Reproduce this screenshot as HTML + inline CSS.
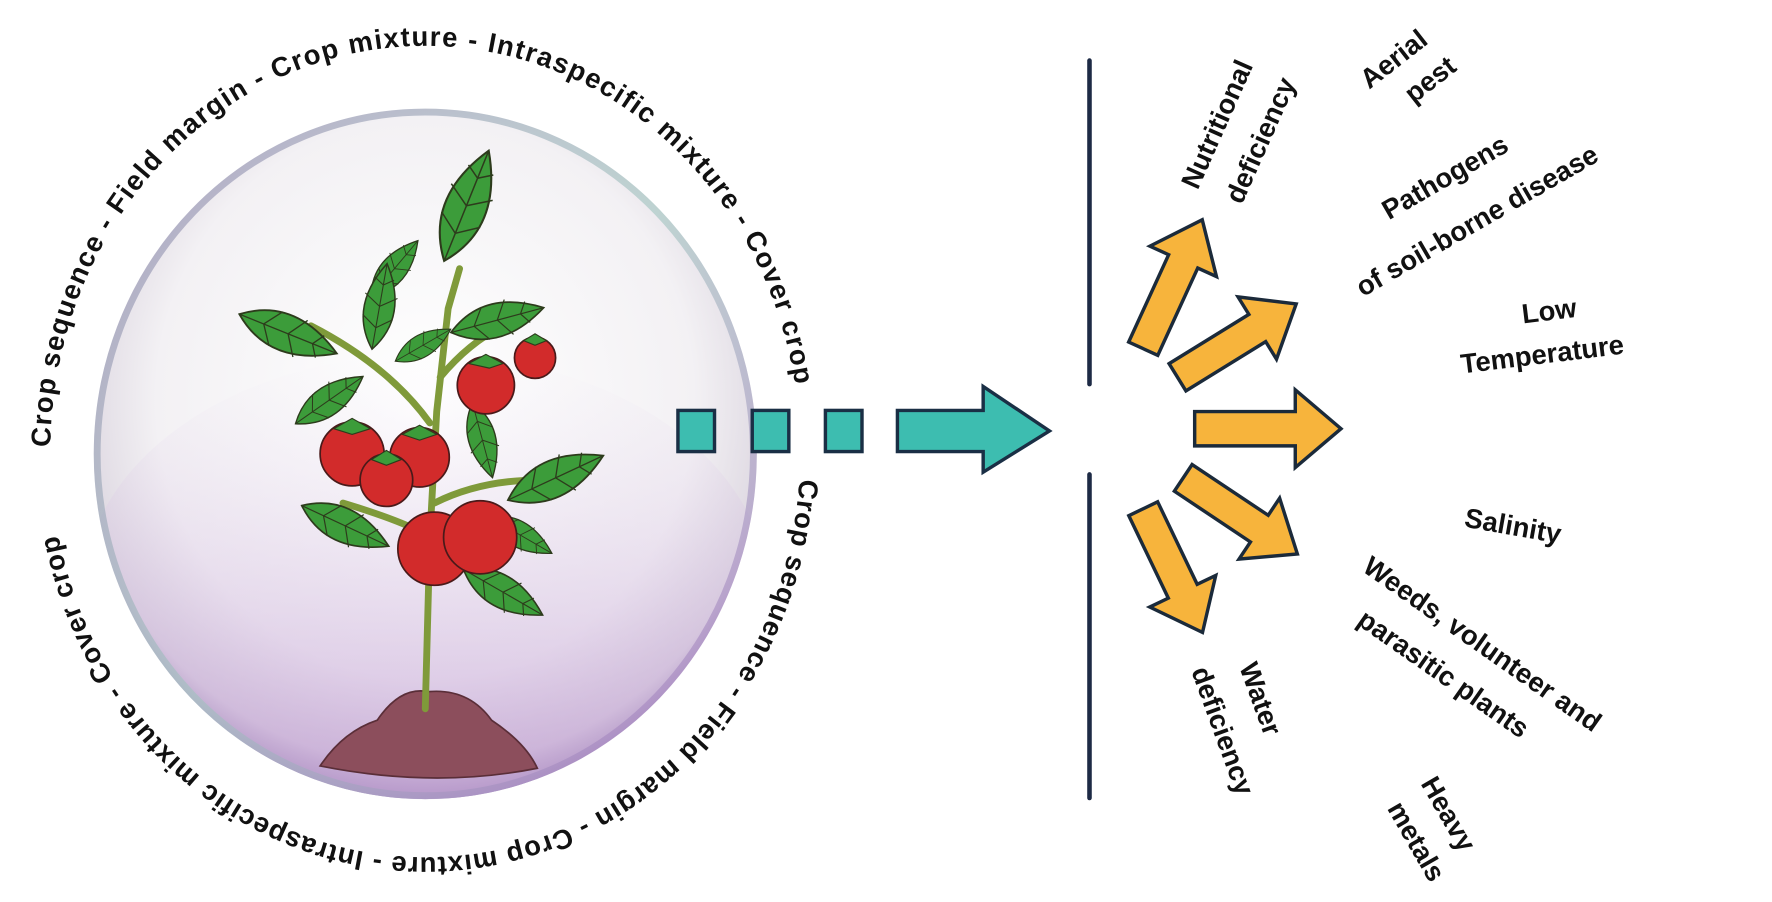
<!DOCTYPE html>
<html><head><meta charset="utf-8"><style>
html,body{margin:0;padding:0;background:#fff;}
svg{display:block;}
text{font-family:"Liberation Sans",sans-serif;font-weight:bold;fill:#111;}
</style></head><body>
<svg width="1772" height="902" viewBox="0 0 1550 789" xmlns="http://www.w3.org/2000/svg">
<defs>
<radialGradient id="bub" cx="0.5" cy="0.42" r="0.58">
<stop offset="0" stop-color="#ffffff"/>
<stop offset="0.7" stop-color="#f3f1f4"/>
<stop offset="0.92" stop-color="#dcd6e0"/>
<stop offset="1" stop-color="#a89cba"/>
</radialGradient>
<linearGradient id="pur" x1="0" y1="0" x2="0" y2="1">
<stop offset="0" stop-color="#e6d8ee" stop-opacity="0"/>
<stop offset="1" stop-color="#b98fcf" stop-opacity="0.7"/>
</linearGradient>
<linearGradient id="rim" x1="0" y1="0" x2="1" y2="1">
<stop offset="0" stop-color="#8a7aa8"/>
<stop offset="0.5" stop-color="#9fc4be"/>
<stop offset="1" stop-color="#a66cc0"/>
</linearGradient>
<clipPath id="bc"><ellipse cx="372" cy="397" rx="290" ry="302"/></clipPath>
<g id="leaf">
<path d="M-40,0 Q-5,-28 40,0 Q-5,28 -40,0Z" fill="#3c9c3a" stroke="#2d3b1c" stroke-width="1.4"/>
<path d="M-40,0 L40,0 M-20,0 L-10,-14 M0,0 L10,-15 M20,0 L26,-9 M-20,0 L-10,14 M0,0 L10,15 M20,0 L26,9" stroke="#2d3b1c" stroke-width="1" fill="none"/>
</g>
<path id="topArc" d="M44,395 A328,355 0 0 1 700,395"/>
<path id="botArc" d="M700,395 A328,355 0 0 1 44,395"/>
</defs>

<ellipse cx="372" cy="397" rx="290" ry="302" fill="url(#bub)"/>
<g clip-path="url(#bc)">
<ellipse cx="372" cy="520" rx="300" ry="210" fill="url(#pur)"/>
</g>
<ellipse cx="372" cy="397" rx="287" ry="299" fill="none" stroke="url(#rim)" stroke-width="6" opacity="0.6"/>

<path d="M280,670 Q300,640 330,630 Q350,600 375,605 Q410,602 430,630 Q460,650 470,672 Q380,690 280,670Z" fill="#8c4e5c" stroke="#5a2e38" stroke-width="1.5"/>

<g stroke="#7f9a3a" stroke-width="6" fill="none" stroke-linecap="round">
<path d="M372,620 L376,470 L382,360 L392,270 L402,235"/>
<path d="M376,370 Q340,320 272,285"/>
<path d="M378,470 Q350,455 300,440"/>
<path d="M380,440 Q420,420 470,420"/>
<path d="M385,330 Q410,300 440,285"/>
</g>
<use href="#leaf" transform="translate(408,180) rotate(-68) scale(1.3)"/>
<use href="#leaf" transform="translate(345,235) rotate(-50) scale(0.8)"/>
<use href="#leaf" transform="translate(332,268) rotate(-80) scale(0.95)"/>
<use href="#leaf" transform="translate(252,292) rotate(22) scale(1.15)"/>
<use href="#leaf" transform="translate(288,350) rotate(-35) scale(0.9)"/>
<use href="#leaf" transform="translate(370,302) rotate(-30) scale(0.7)"/>
<use href="#leaf" transform="translate(435,280) rotate(-15) scale(1.05)"/>
<use href="#leaf" transform="translate(422,385) rotate(75) scale(0.85)"/>
<use href="#leaf" transform="translate(486,418) rotate(-25) scale(1.15)"/>
<use href="#leaf" transform="translate(302,460) rotate(25) scale(1.05)"/>
<use href="#leaf" transform="translate(455,468) rotate(30) scale(0.8)"/>
<use href="#leaf" transform="translate(440,518) rotate(30) scale(1.0)"/>
<g fill="#d22b2b" stroke="#4a1a1a" stroke-width="1.5">
<circle cx="425" cy="337" r="25"/>
<circle cx="468" cy="313" r="18"/>
<circle cx="308" cy="397" r="28"/>
<circle cx="367" cy="400" r="26"/>
<circle cx="338" cy="420" r="23"/>
<circle cx="380" cy="480" r="32"/>
<circle cx="420" cy="470" r="32"/>
</g>
<g fill="#3c9c3a" stroke="#2d3b1c" stroke-width="1">
<path d="M410,318 L425,310 L440,318 L428,322Z"/><path d="M458,298 L468,292 L478,298 L468,302Z"/>
<path d="M292,375 L308,366 L324,375 L308,380Z"/><path d="M352,380 L367,372 L382,380 L367,385Z"/><path d="M325,402 L338,394 L351,402 L338,407Z"/>
</g>

<text font-size="24"><textPath href="#topArc" startOffset="4" textLength="1010" lengthAdjust="spacing">Crop sequence - Field margin - Crop mixture - Intraspecific mixture - Cover crop</textPath></text>
<text font-size="24"><textPath href="#botArc" startOffset="24" textLength="975" lengthAdjust="spacing">Crop sequence - Field margin - Crop mixture - Intraspecific mixture - Cover crop</textPath></text>

<g fill="#3dbdb0" stroke="#1a2f45" stroke-width="3">
<rect x="593" y="359" width="32" height="36"/>
<rect x="658" y="359" width="32" height="36"/>
<rect x="722" y="359" width="32" height="36"/>
<polygon points="785,359 860,359 860,338 918,377 860,413 860,395 785,395"/>
</g>

<g stroke="#1d2a45" stroke-width="4" stroke-linecap="round">
<line x1="953" y1="53" x2="953" y2="336"/>
<line x1="953" y1="415" x2="953" y2="698"/>
</g>

<g fill="#f7b43c" stroke="#1b2a3a" stroke-width="3" stroke-linejoin="miter">
<polygon transform="translate(1000,305) rotate(-65.4)" points="0,-14 84,-14 84,-32 124,0 84,32 84,14 0,14"/>
<polygon transform="translate(1030,330) rotate(-31.7)" points="0,-14 82,-14 82,-32 122,0 82,32 82,14 0,14"/>
<polygon transform="translate(1045,375) rotate(0)" points="0,-15 88,-15 88,-34 128,0 88,34 88,15 0,15"/>
<polygon transform="translate(1035,418) rotate(33.7)" points="0,-14 80,-14 80,-32 120,0 80,32 80,14 0,14"/>
<polygon transform="translate(1000,445) rotate(64.4)" points="0,-14 80,-14 80,-32 120,0 80,32 80,14 0,14"/>
</g>

<g font-size="24" text-anchor="middle">
<text transform="translate(1072,112) rotate(-66)">Nutritional</text>
<text transform="translate(1110,126) rotate(-66)">deficiency</text>
<text transform="translate(1224,58) rotate(-38)">Aerial</text>
<text transform="translate(1256,76) rotate(-38)">pest</text>
<text transform="translate(1268,162) rotate(-30)">Pathogens</text>
<text transform="translate(1296,200) rotate(-30)">of soil-borne disease</text>
<text transform="translate(1356,280) rotate(-7)">Low</text>
<text transform="translate(1350,318) rotate(-7)">Temperature</text>
<text transform="translate(1322,468) rotate(10)">Salinity</text>
<text transform="translate(1292,570) rotate(35)">Weeds, volunteer and</text>
<text transform="translate(1258,596) rotate(35)">parasitic plants</text>
<text transform="translate(1095,614) rotate(70)">Water</text>
<text transform="translate(1062,642) rotate(70)">deficiency</text>
<text transform="translate(1260,716) rotate(60)">Heavy</text>
<text transform="translate(1232,740) rotate(60)">metals</text>
</g>
</svg>
</body></html>
